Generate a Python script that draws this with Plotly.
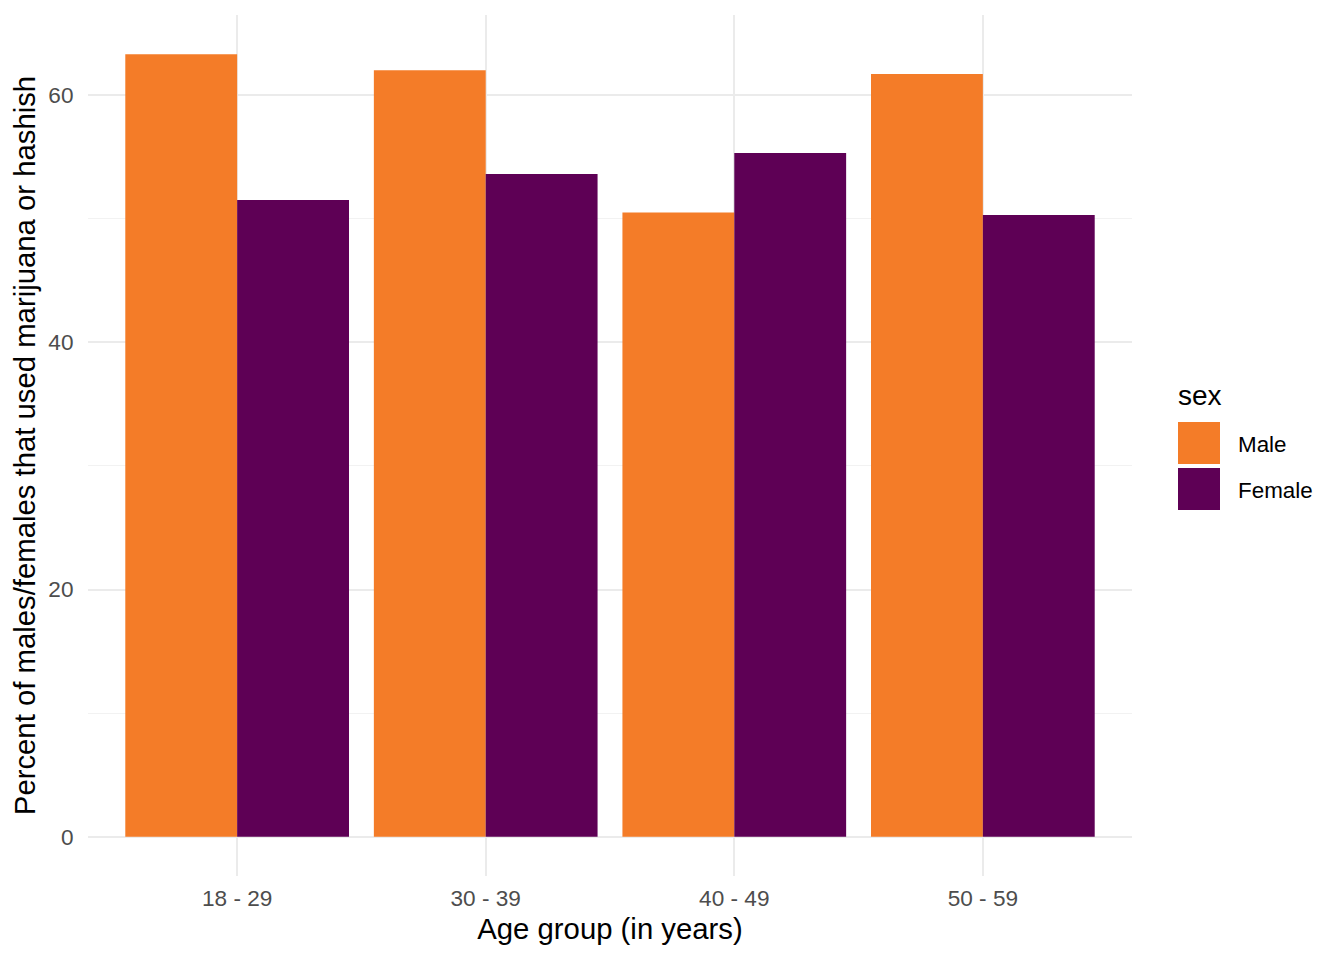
import plotly.graph_objects as go

age_groups = ["18 - 29", "30 - 39", "40 - 49", "50 - 59"]
male_pct = [63.3, 62.0, 50.5, 61.7]
female_pct = [51.5, 53.6, 55.3, 50.3]
sexes = ["Male", "Female"]
colors = {"Male": "#F47C28", "Female": "#5E0055"}
y_ticks = [0, 20, 40, 60]

FONT = "Liberation Sans, Arial, Helvetica, sans-serif"

# page body has an 8px margin; compensate so the panel lands at 88..1132 x 15..876
OFF = 8
L, T, R, B = 88 - OFF, 15 - OFF, 1344 - 1132 + OFF, 960 - 876 + OFF
W, H = 1344, 960
PW, PH = W - L - R, H - T - B


def px(sx):
    return (sx - OFF - L) / PW


def py(sy):
    return (H - B - (sy - OFF)) / PH


fig = go.Figure()
for sex, vals in zip(sexes, [male_pct, female_pct]):
    fig.add_trace(go.Bar(
        x=age_groups, y=vals, name=sex, showlegend=False,
        marker=dict(color=colors[sex], line=dict(width=0)),
    ))

ymax = max(male_pct + female_pct)
pad = ymax * 0.05

# legend (drawn as key squares + labels, ggplot style)
shapes = []
annotations = [dict(
    text="sex", xref="paper", yref="paper", x=px(1176), y=py(395),
    xanchor="left", yanchor="middle", showarrow=False,
    font=dict(size=28, color="black", family=FONT),
)]
key_top = 422
for i, sex in enumerate(sexes):
    top = key_top + i * 46
    shapes.append(dict(
        type="rect", xref="paper", yref="paper",
        x0=px(1178), x1=px(1220), y0=py(top + 42), y1=py(top),
        fillcolor=colors[sex], line=dict(width=0),
    ))
    annotations.append(dict(
        text=sex, xref="paper", yref="paper", x=px(1236), y=py(top + 22),
        xanchor="left", yanchor="middle", showarrow=False,
        font=dict(size=22.4, color="black", family=FONT),
    ))

fig.update_layout(
    width=W, height=H,
    paper_bgcolor="white", plot_bgcolor="white",
    margin=dict(l=L, r=R, t=T, b=B),
    barmode="group", bargap=0.1, bargroupgap=0,
    font=dict(family=FONT, color="black"),
    showlegend=False,
    shapes=shapes, annotations=annotations,
    xaxis=dict(
        type="category",
        range=[-0.6, 3.6],
        showgrid=True, gridcolor="#EBEBEB", gridwidth=2,
        zeroline=False, showline=False,
        ticks="outside", ticklen=2, tickcolor="rgba(0,0,0,0)",
        tickfont=dict(size=22.6, color="#4D4D4D", family=FONT),
        title=dict(text="Age group (in years)", font=dict(size=29.3, color="black", family=FONT), standoff=8),
    ),
    yaxis=dict(
        range=[-pad, ymax + pad],
        tickvals=y_ticks,
        showgrid=True, gridcolor="#EBEBEB", gridwidth=2,
        minor=dict(dtick=10, showgrid=True, gridcolor="#F2F2F2", gridwidth=1),
        zeroline=False, showline=False,
        ticks="outside", ticklen=9, tickcolor="rgba(0,0,0,0)",
        tickfont=dict(size=22.6, color="#4D4D4D", family=FONT),
        title=dict(text="Percent of males/females that used marijuana or hashish",
                   font=dict(size=29.3, color="black", family=FONT), standoff=8),
    ),
)

fig.write_html("out.html")
